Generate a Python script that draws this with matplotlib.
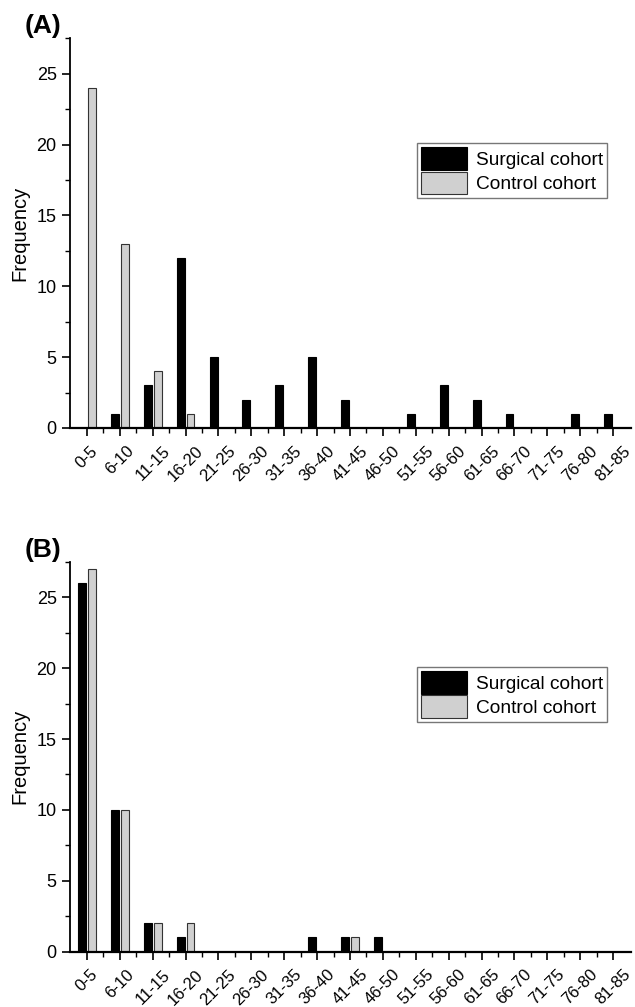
import numpy as np
import matplotlib
matplotlib.use("Agg")
import matplotlib.pyplot as plt
from matplotlib.ticker import MultipleLocator

plt.rcParams['font.family'] = ['Liberation Sans', 'DejaVu Sans']

# age groups (years)
age_groups = ["0-5", "6-10", "11-15", "16-20", "21-25", "26-30", "31-35", "36-40",
              "41-45", "46-50", "51-55", "56-60", "61-65", "66-70", "71-75",
              "76-80", "81-85"]

# panel A
surgical_a = [0, 1, 3, 12, 5, 2, 3, 5, 2, 0, 1, 3, 2, 1, 0, 1, 1]
control_a = [24, 13, 4, 1, 0, 0, 0, 0, 0, 0, 0, 0, 0, 0, 0, 0, 0]

# panel B
surgical_b = [26, 10, 2, 1, 0, 0, 0, 1, 1, 1, 0, 0, 0, 0, 0, 0, 0]
control_b = [27, 10, 2, 2, 0, 0, 0, 0, 1, 0, 0, 0, 0, 0, 0, 0, 0]

panels = [("(A)", surgical_a, control_a), ("(B)", surgical_b, control_b)]

fig = plt.figure(figsize=(6.35, 10.07), dpi=100)
rects = [(0.110, 0.575, 0.884, 0.387), (0.110, 0.055, 0.884, 0.387)]

x = np.arange(len(age_groups))
width = 0.24

for rect, (tag, surg, ctrl) in zip(rects, panels):
    ax = fig.add_axes(rect)
    ax.bar(x - 0.15, surg, width, color="black", edgecolor="black",
           linewidth=0.8, label="Surgical cohort")
    ax.bar(x + 0.15, ctrl, width, color="#d0d0d0", edgecolor="#333333",
           linewidth=0.8, label="Control cohort")

    ax.set_xlim(-0.52, 16.55)
    ax.set_ylim(0, 27.5)
    ax.spines['top'].set_visible(False)
    ax.spines['right'].set_visible(False)
    ax.spines['left'].set_linewidth(1.3)
    ax.spines['bottom'].set_linewidth(1.6)

    ax.yaxis.set_major_locator(MultipleLocator(5))
    ax.yaxis.set_minor_locator(MultipleLocator(2.5))
    ax.set_xticks(x)
    ax.set_xticks(x[:-1] + 0.5, minor=True)
    ax.set_xticklabels(age_groups, rotation=45, ha="center", va="top")
    ax.tick_params(axis="both", which="major", direction="out", length=6,
                   width=1.2, labelsize=13)
    ax.tick_params(axis="both", which="minor", direction="out", length=3.5,
                   width=1.0)
    ax.tick_params(axis="x", which="major", pad=5, labelsize=12)
    ax.set_ylabel("Frequency", fontsize=14.5, labelpad=5)

    leg = ax.legend(loc="upper left", bbox_to_anchor=(0.618, 0.73),
                    fontsize=13.8, frameon=True, fancybox=False,
                    handlelength=2.4, handleheight=1.45, labelspacing=0.08,
                    borderpad=0.2, handletextpad=0.5, borderaxespad=0)
    leg.get_frame().set_edgecolor("#555555")
    leg.get_frame().set_linewidth(1.0)

    ax.text(-0.015, 1.0, tag, transform=ax.transAxes, fontsize=19,
            fontweight="bold", ha="right", va="bottom")

fig.savefig("out.png", dpi=100)
